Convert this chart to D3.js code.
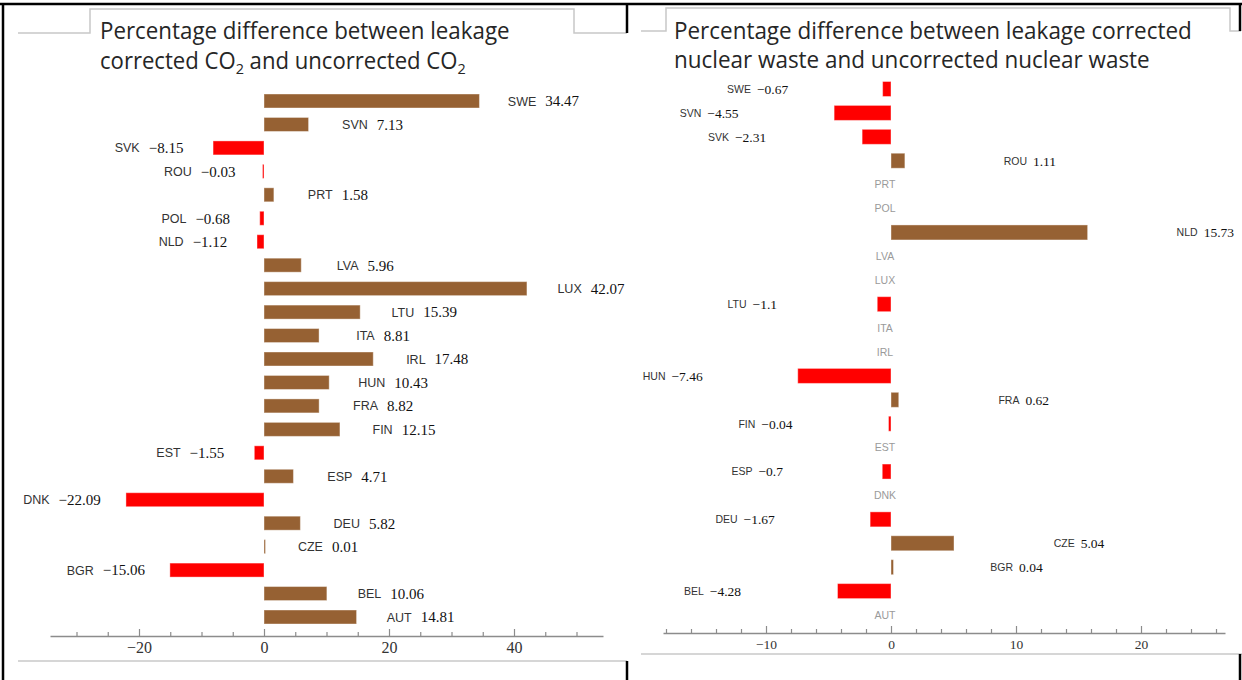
<!DOCTYPE html>
<html><head><meta charset="utf-8">
<script src="https://cdn.jsdelivr.net/npm/d3@7"></script>
<style>body{margin:0;background:#fff} svg{display:block}</style>
</head><body>
<svg id="c" width="1242" height="680"></svg>
<script>
// ---------- data ----------
const countries = ["SWE","SVN","SVK","ROU","PRT","POL","NLD","LVA","LUX","LTU","ITA","IRL","HUN","FRA","FIN","EST","ESP","DNK","DEU","CZE","BGR","BEL","AUT"];
const co2Values = [34.47, 7.13, -8.15, -0.03, 1.58, -0.68, -1.12, 5.96, 42.07, 15.39, 8.81, 17.48, 10.43, 8.82, 12.15, -1.55, 4.71, -22.09, 5.82, 0.01, -15.06, 10.06, 14.81];
const wasteValues = [-0.67, -4.55, -2.31, 1.11, null, null, 15.73, null, null, -1.1, null, null, -7.46, 0.62, -0.04, null, -0.7, null, -1.67, 5.04, 0.04, -4.28, null];
const co2MajorTicks = [-20, 0, 20, 40];
const co2MinorTicks = [-30, -25, -15, -10, -5, 5, 10, 15, 25, 30, 35, 45, 50];
const wasteMajorTicks = [-10, 0, 10, 20];
const wasteMinorTicks = [-18, -16, -14, -12, -8, -6, -4, -2, 2, 4, 6, 8, 12, 14, 16, 18, 22, 24, 26];
const co2TitleLines = [
  [["Percentage difference between leakage", false]],
  [["corrected CO", false], ["2", true], [" and uncorrected CO", false], ["2", true]]
];
const wasteTitleLines = [
  [["Percentage difference between leakage corrected", false]],
  [["nuclear waste and uncorrected nuclear waste", false]]
];

// ---------- drawing ----------
const svg = d3.select("#c");
const POS = "#966133", NEG = "#ff0000";
const fmt = v => (v < 0 ? "\u2212" : "") + String(Math.abs(v));

// frame
const frame = svg.append("g");
const line = d3.line();
const gray = [
  [[18,33],[90,33],[90,9],[574,9],[574,33],[627,33]],
  [[18,661],[627,661]],
  [[641,31],[666,31],[666,8],[1230,8],[1230,31],[1241,31]],
  [[641,654],[1242,654]]
];
gray.forEach(p => frame.append("path").attr("d", line(p)).attr("fill","none").attr("stroke","#c8c8c8").attr("stroke-width",1.5));
const black = [
  [[0,4],[1242,4]],
  [[3,4],[3,680]],
  [[627,4],[627,33]],
  [[627,661],[627,680]],
  [[1240,4],[1240,31]],
  [[1240,654],[1240,680]]
];
black.forEach(p => frame.append("path").attr("d", line(p)).attr("fill","none").attr("stroke","#000").attr("stroke-width",2.5));

function drawTitle(lines, x, baselines, widths) {
  lines.forEach((parts, i) => {
    const g = svg.append("g");
    const t = g.append("text").attr("x",0).attr("y",0)
      .attr("font-family","'Open Sans', 'Noto Sans', sans-serif").attr("font-size",23).attr("fill","#262626");
    let shifted = false;
    parts.forEach(([s, sub]) => {
      let dy = 0;
      if (sub && !shifted) { dy = 5; shifted = true; }
      else if (!sub && shifted) { dy = -5; shifted = false; }
      t.append("tspan").attr("dy", dy).attr("font-size", sub ? 15 : null).text(s);
    });
    const w = t.node().getComputedTextLength();
    g.attr("transform", `translate(${x},${baselines[i]}) scale(${widths[i]/w},1)`);
  });
}

function drawPanel(cfg) {
  const x = d3.scaleLinear().domain(cfg.domain).range(cfg.range);
  const y = d3.scalePoint().domain(countries).range(cfg.rows);
  const g = svg.append("g");
  const x0 = x(0);
  const data = countries.map((c, i) => ({c, v: cfg.values[i]}));
  const bw = d => Math.max(Math.abs(x(d.v) - x0), cfg.minW);

  // bars
  g.selectAll("rect.bar").data(data.filter(d => d.v !== null)).join("rect")
    .attr("class","bar")
    .attr("x", d => d.v < 0 ? x0 - bw(d) : x0)
    .attr("width", bw)
    .attr("y", d => y(d.c) - cfg.barH/2)
    .attr("height", cfg.barH)
    .attr("fill", d => d.v < 0 ? NEG : POS)
    .attr("stroke","#fff").attr("stroke-opacity",0.4).attr("stroke-width",1);

  // labels
  data.forEach(d => {
    if (d.v === null) {
      g.append("text").attr("x", x0 + cfg.nullShift).attr("y", y(d.c)).attr("dy","0.36em")
        .attr("text-anchor","middle").attr("font-family","'Liberation Sans', Arial, sans-serif")
        .attr("font-size", cfg.codeSize).attr("fill","#9a9a9a").text(d.c);
      return;
    }
    const lg = g.append("g");
    const ct = lg.append("text").attr("x",0).attr("y",0).attr("dy","0.36em")
      .attr("font-family","'Liberation Sans', Arial, sans-serif").attr("font-size",cfg.codeSize).attr("fill","#333").text(d.c);
    const cw = ct.node().getComputedTextLength();
    const vt = lg.append("text").attr("x", cw + cfg.gap).attr("y",0).attr("dy","0.36em")
      .attr("font-family","'Liberation Serif', 'Times New Roman', serif").attr("font-size",cfg.valSize).attr("fill","#111").text(fmt(d.v));
    const W = cw + cfg.gap + vt.node().getComputedTextLength();
    const end = x(d.v);
    const cx = d.v < 0 ? end - cfg.offset : end + cfg.offset;
    let left = cx - W/2;
    if (left + W > cfg.maxRight) left = cfg.maxRight - W;
    lg.attr("transform", `translate(${left},${y(d.c)})`);
  });

  // axis
  const ay = cfg.axisY;
  const major = d3.axisBottom(x).tickValues(cfg.major).tickSize(-7).tickSizeOuter(0).tickPadding(cfg.pad)
    .tickFormat(d => d < 0 ? "\u2212" + Math.abs(d) : String(d));
  const minor = d3.axisBottom(x).tickValues(cfg.minor).tickSize(-4).tickSizeOuter(0).tickFormat("");
  const ga = g.append("g").attr("transform", `translate(0,${ay})`).call(major);
  const gm = g.append("g").attr("transform", `translate(0,${ay})`).call(minor);
  [ga, gm].forEach(a => {
    a.select(".domain").attr("stroke","#8c8c8c").attr("stroke-width",1.5);
    a.selectAll(".tick line").attr("stroke","#8c8c8c").attr("stroke-width",1.2);
  });
  gm.select(".domain").remove();
  ga.selectAll(".tick text").attr("font-family","'Liberation Serif', 'Times New Roman', serif")
    .attr("font-size", cfg.tickSize).attr("fill","#333");
}

drawTitle(co2TitleLines, 100, [39, 69], [410, 366]);
drawTitle(wasteTitleLines, 674, [39, 68], [518, 476]);

drawPanel({
  values: co2Values, domain: [-34.24, 54.24], range: [50, 603], rows: [101, 617],
  barH: 14, minW: 1.5, offset: 64, gap: 9, codeSize: 12.5, valSize: 15, maxRight: 626,
  nullShift: 0, axisY: 636, major: co2MajorTicks, minor: co2MinorTicks, pad: 6, tickSize: 16
});
drawPanel({
  values: wasteValues, domain: [-18.24, 26.72], range: [663, 1225], rows: [89, 615],
  barH: 15, minW: 2.5, offset: 125, gap: 6, codeSize: 10.5, valSize: 13.5, maxRight: 1234,
  nullShift: -6, axisY: 633, major: wasteMajorTicks, minor: wasteMinorTicks, pad: 6, tickSize: 13.5
});
</script>
</body></html>
